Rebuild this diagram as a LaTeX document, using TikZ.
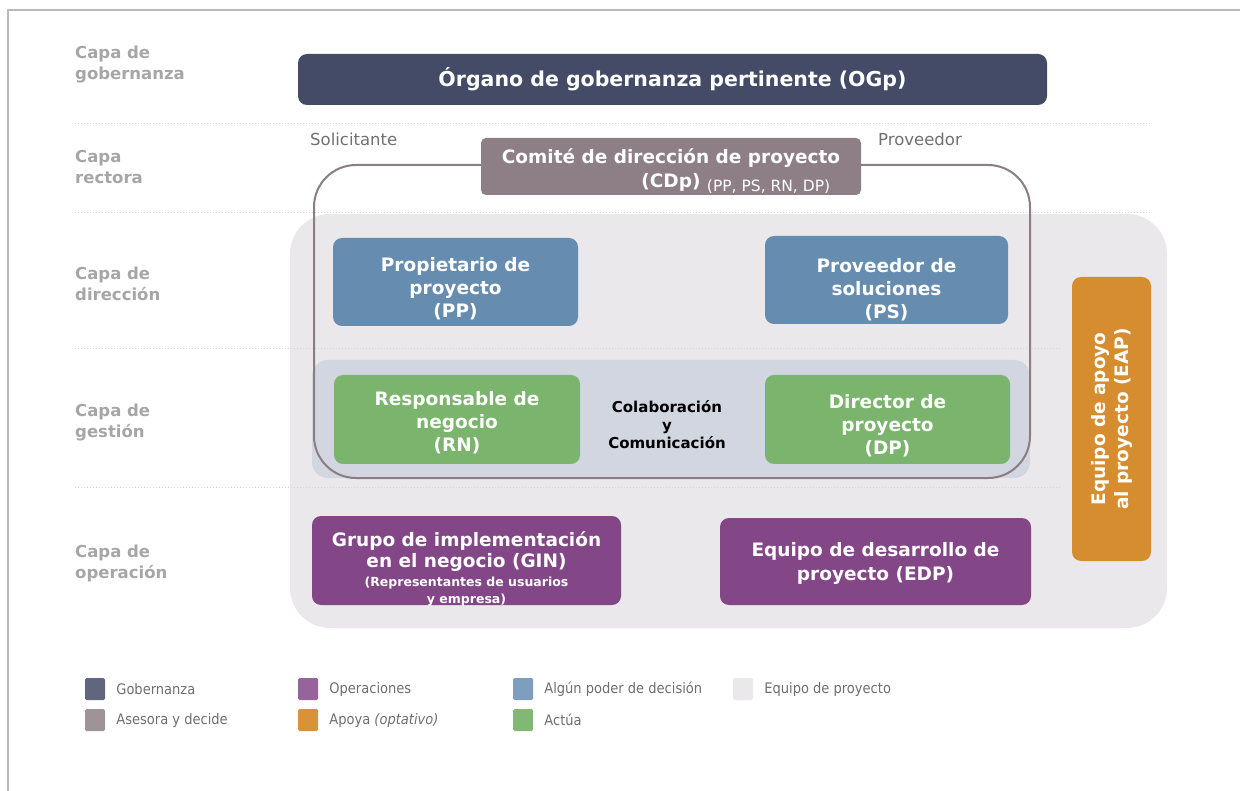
\documentclass[tikz,border=0pt]{standalone}
\usepackage{fontspec}
\setmainfont{DejaVu Sans}
\newfontfamily\legendfont{DejaVu Sans Condensed}
\usetikzlibrary{positioning}
\definecolor{navy}{HTML}{444B66}
\definecolor{mauve}{HTML}{8E7F86}
\definecolor{steel}{HTML}{668DB0}
\definecolor{leaf}{HTML}{7BB46D}
\definecolor{plum}{HTML}{834788}
\definecolor{amber}{HTML}{D68D2F}
\definecolor{teamgrey}{HTML}{EAE8EA}
\definecolor{bandblue}{HTML}{D1D6E0}
\definecolor{outline}{HTML}{8B7D83}
\definecolor{capagrey}{HTML}{A6A6A6}
\definecolor{sidegrey}{HTML}{707070}
\definecolor{legendgrey}{HTML}{6E6E6E}

\begin{document}
\begin{tikzpicture}[x=1pt,y=-1pt,
  capa/.style={anchor=west,align=left,text=capagrey,inner sep=0pt,font=\bfseries\fontsize{16.5}{21}\selectfont},
  side/.style={anchor=west,text=sidegrey,inner sep=0pt,font=\fontsize{16.5}{18}\selectfont},
  role/.style={rounded corners=9pt,text=white,align=center,inner sep=0pt,font=\bfseries\fontsize{18.5}{23}\selectfont},
  roletext/.style={text=white,align=center,inner sep=0pt,font=\bfseries\fontsize{18.5}{23}\selectfont},
  separator/.style={draw=black!16,dotted,line width=1pt},
  swatch/.style={rounded corners=1.5pt,minimum width=20pt,minimum height=22pt,inner sep=0pt},
  legtext/.style={text=legendgrey,inner sep=0pt,font=\legendfont\fontsize{14.5}{16}\selectfont},
  node distance=11pt
]
\useasboundingbox (0,0) rectangle (1240,791);
% frame
\draw[black!27,line width=1.5pt] (1240,10) -- (8,10) -- (8,791);

% equipo de proyecto
\fill[teamgrey,rounded corners=40pt] (290,214) rectangle (1167,628);

% layer separators
\draw[separator] (75,124) -- (1152,124);
\draw[separator] (75,213) -- (1152,213);
\draw[separator] (75,349) -- (1060,349);
\draw[separator] (75,487) -- (1060,487);

% layer labels
\node[capa] (lgob) at (75,65) {Capa de\\gobernanza};
\node[capa] (lrec) at (75,167) {Capa\\rectora};
\node[capa] (ldir) at (75,284) {Capa de\\dirección};
\node[capa] (lges) at (75,423) {Capa de\\gestión};
\node[capa] (lope) at (75,563) {Capa de\\operación};

% gestion band and steering outline
\fill[bandblue,rounded corners=16pt] (312,360) rectangle (1030,478);
\draw[outline,line width=2pt,rounded corners=42pt] (314,165) rectangle (1030,478);

\node[side] (solic) at (310,139) {Solicitante};
\node[side] (prov) at (878,139) {Proveedor};

% governance and steering
\node[role,fill=navy,minimum width=749pt,minimum height=51pt,font=\bfseries\fontsize{20.5}{23}\selectfont] (ogp) at (672.5,79.5) {Órgano de gobernanza pertinente (OGp)};
\node[role,fill=mauve,rounded corners=5pt,minimum width=380pt,minimum height=57pt,
  label={[roletext,name=cdptext,yshift=-5pt,font=\bfseries\fontsize{18.5}{24}\selectfont]center:{Comité de dirección de proyecto\\(CDp)\makebox[0pt][l]{\ \raisebox{-4pt}{\mdseries\fontsize{15.5}{16}\selectfont(PP, PS, RN, DP)}}}}] (cdp) at (671,166.5) {};

% direction and management roles
\node[role,fill=steel,minimum width=245pt,minimum height=88pt,label={[roletext,name=pptext,yshift=-7pt]center:{Propietario de\\proyecto\\(PP)}}] (pp) at (455.5,282) {};
\node[role,fill=steel,minimum width=243pt,minimum height=88pt,label={[roletext,name=pstext,yshift=-10pt]center:{Proveedor de\\soluciones\\(PS)}}] (ps) at (886.5,280) {};
\node[role,fill=leaf,minimum width=246pt,minimum height=89pt,label={[roletext,name=rntext,yshift=-3pt]center:{Responsable de\\negocio\\(RN)}}] (rn) at (457,419.5) {};
\node[role,fill=leaf,minimum width=245pt,minimum height=89pt,label={[roletext,name=dptext,yshift=-6pt]center:{Director de\\proyecto\\(DP)}}] (dp) at (887.5,419.5) {};
\node[align=center,inner sep=0pt,font=\bfseries\fontsize{15}{18}\selectfont] (colab) at (667,425) {Colaboración\\y\\Comunicación};

% operation
\node[role,fill=plum,minimum width=309pt,minimum height=89pt,
  label={[roletext,name=gintext,yshift=-8pt,font=\bfseries\fontsize{18.5}{21}\selectfont]center:{Grupo de implementación\\en el negocio (GIN)\\[-2pt]{\fontsize{12.5}{16}\selectfont(Representantes de usuarios}\\[-4pt]{\fontsize{12.5}{16}\selectfont y empresa)}}}] (gin) at (466.5,560.5) {};
\node[role,fill=plum,minimum width=311pt,minimum height=87pt,
  label={[roletext,name=edptext,yshift=-2pt,font=\bfseries\fontsize{18.5}{24}\selectfont]center:{Equipo de desarrollo de\\proyecto (EDP)}}] (edp) at (875.5,561.5) {};
\node[role,fill=amber,rotate=90,minimum width=284pt,minimum height=79pt] (eap) at (1111.5,419) {Equipo de apoyo\\al proyecto (EAP)};

% legend
\node[swatch,fill=navy!85] (sgob) at (95,689) {};
\node[legtext,right=of sgob] (tgob) {Gobernanza};
\node[swatch,fill=mauve!85] (sase) at (95,720) {};
\node[legtext,right=of sase] (tase) {Asesora y decide};
\node[swatch,fill=plum!85] (sope) at (308,689) {};
\node[legtext,right=of sope] (tope) {Operaciones};
\node[swatch,fill=amber!95] (sapo) at (308,720) {};
\node[legtext,right=of sapo] (tapo) {Apoya \textit{(optativo)}};
\node[swatch,fill=steel!85] (sdec) at (523,689) {};
\node[legtext,right=of sdec] (tdec) {Algún poder de decisión};
\node[swatch,fill=leaf!95] (sact) at (523,720) {};
\node[legtext,right=of sact] (tact) {Actúa};
\node[swatch,fill=teamgrey] (sequ) at (743,689) {};
\node[legtext,right=of sequ] (tequ) {Equipo de proyecto};
\end{tikzpicture}
\end{document}
